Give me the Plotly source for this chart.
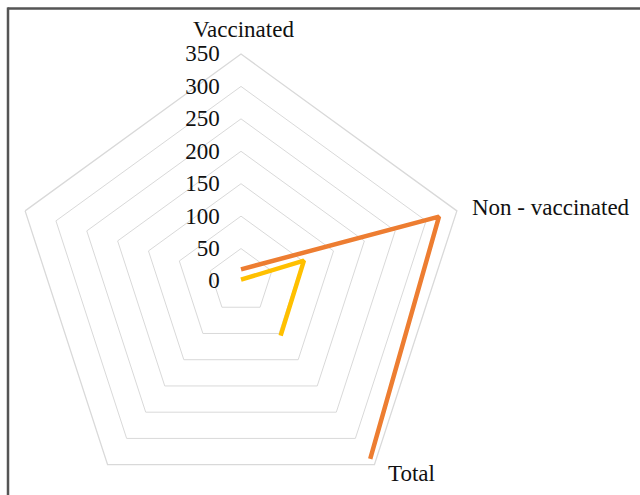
import plotly.graph_objects as go

categories = ["Vaccinated", "Non - vaccinated", "Total", " ", "  "]
series_a = [18, 321, 339, None, None]   # orange
series_b = [2, 102, 104, None, None]    # yellow
radial_ticks = [0, 50, 100, 150, 200, 250, 300, 350]
radial_ticktext = [str(v) for v in radial_ticks]

W, H = 640, 518
cx, cy, R = 241, 281, 227

fig = go.Figure()
fig.add_trace(go.Scatterpolar(r=series_a, theta=categories, mode="lines",
                              line=dict(color="#ED7D31", width=4.5), connectgaps=False,
                              showlegend=False))
fig.add_trace(go.Scatterpolar(r=series_b, theta=categories, mode="lines",
                              line=dict(color="#FFC000", width=4.5), connectgaps=False,
                              showlegend=False))

font = dict(family="Liberation Serif, Times New Roman, serif", size=23, color="#111")
pad = "\u00a0\u00a0\u00a0"

# category labels (placed like the reference's axis titles)
label_pos = {"Vaccinated": (243.5, 29, "center"),
             "Non - vaccinated": (470, 207, "left"),
             "Total": (386, 473, "left")}
annotations = []
for name in categories:
    if name in label_pos:
        px, py, xa = label_pos[name]
        annotations.append(dict(text=name, xref="paper", yref="paper",
                                x=px / W, y=1 - py / H, xanchor=xa, yanchor="middle",
                                showarrow=False, font=font))

fig.update_layout(
    width=W, height=H, margin=dict(l=0, r=0, t=0, b=0),
    paper_bgcolor="white", plot_bgcolor="white",
    font=font,
    polar=dict(
        domain=dict(x=[(cx - R) / W, (cx + R) / W], y=[(H - cy - R) / H, (H - cy + R) / H]),
        gridshape="linear",
        bgcolor="white",
        radialaxis=dict(range=[0, 350], tickvals=radial_ticks,
                        ticktext=[t + pad for t in radial_ticktext],
                        angle=90, tickangle=90,
                        showline=False, ticks="", gridcolor="#D9D9D9", gridwidth=1.3,
                        tickfont=font, side="counterclockwise"),
        angularaxis=dict(categoryorder="array", categoryarray=categories,
                         direction="clockwise", rotation=90, showgrid=False,
                         showline=True, linecolor="#D9D9D9", linewidth=1.3, ticks="",
                         showticklabels=False),
    ),
    annotations=annotations,
    shapes=[
        dict(type="line", xref="paper", yref="paper", x0=7.5 / W, x1=1.0,
             y0=1 - 8.5 / H, y1=1 - 8.5 / H, line=dict(color="#555", width=2.5)),
        dict(type="line", xref="paper", yref="paper", x0=8 / W, x1=8 / W,
             y0=0, y1=1 - 7.5 / H, line=dict(color="#555", width=2.5)),
    ],
)

fig.write_html("out.html", config={"displayModeBar": False},
               post_script="document.documentElement.style.overflow='hidden';document.body.style.overflow='hidden';document.body.style.margin='0';")
